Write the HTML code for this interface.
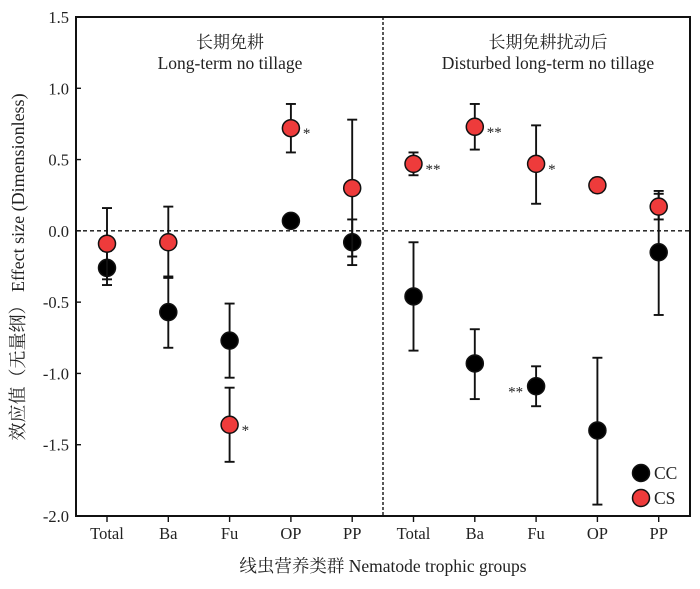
<!DOCTYPE html>
<html><head><meta charset="utf-8"><style>
body{margin:0;background:#fff}
svg text{font-family:"Liberation Serif","Noto Serif CJK SC",serif;fill:#222}
</style></head><body>
<svg width="700" height="584" xmlns="http://www.w3.org/2000/svg">
<g id="g"></g>
</svg>
<script>
const categories=["Total","Ba","Fu","OP","PP","Total","Ba","Fu","OP","PP"];
const ccMean=[-0.26,-0.57,-0.77,0.07,-0.08,-0.46,-0.93,-1.09,-1.40,-0.15];
const ccLow=[-0.38,-0.82,-1.03,0.07,-0.24,-0.84,-1.18,-1.23,-1.92,-0.59];
const ccHigh=[-0.14,-0.32,-0.51,0.07,0.08,-0.08,-0.69,-0.95,-0.89,0.28];
const csMean=[-0.09,-0.08,-1.36,0.72,0.30,0.47,0.73,0.47,0.32,0.17];
const csLow=[-0.34,-0.33,-1.62,0.55,-0.18,0.39,0.57,0.19,0.27,0.08];
const csHigh=[0.16,0.17,-1.10,0.89,0.78,0.55,0.89,0.74,0.37,0.26];
const csSig=["","","*","*","","**","**","*","",""];
const ccSig=["","","","","","","","**","",""];
const yTicks=[1.5,1.0,0.5,0.0,-0.5,-1.0,-1.5,-2.0];
const yTickLabels=["1.5","1.0","0.5","0.0","-0.5","-1.0","-1.5","-2.0"];

const L=76,R=690,T=17,B=516;
const y=v=>T+(1.5-v)/3.5*(B-T);
const x=i=>107+i*61.3;
const NS="http://www.w3.org/2000/svg";
const g=document.getElementById('g');
function mk(tag,attrs,parent){const e=document.createElementNS(NS,tag);for(const k in attrs)e.setAttribute(k,attrs[k]);(parent||g).appendChild(e);return e;}

let f=mk('rect',{x:L,y:T,width:R-L,height:B-T,fill:'none',stroke:'#111','stroke-width':2});


let z=mk('line',{x1:L,x2:R,y1:y(0),y2:y(0),stroke:'#111','stroke-width':1.4,'stroke-dasharray':'4,3'});


let dv=mk('line',{x1:383,x2:383,y1:T,y2:B,stroke:'#111','stroke-width':1.4,'stroke-dasharray':'3,2'});



yTicks.forEach((v,i)=>{
  mk('line',{x1:L,x2:L+5,y1:y(v),y2:y(v),stroke:'#111','stroke-width':1.4});
  const t=mk('text',{x:L-7,y:y(v)+6,'text-anchor':'end','font-size':16.5});
  t.textContent=yTickLabels[i];
  
  
});
categories.forEach((c,i)=>{
  mk('line',{x1:x(i),x2:x(i),y1:B,y2:B+6,stroke:'#111','stroke-width':1.4});
  const t=mk('text',{x:x(i),y:B+23,'text-anchor':'middle','font-size':16.5});
  t.textContent=c;
  
  
});

function series(mean,lo,hi,fill,sig,name,sigLeft){
  mean.forEach((m,i)=>{
    const cx=x(i);
    const eb=mk('g',{stroke:'#111','stroke-width':1.9});
    
    
    mk('line',{x1:cx,x2:cx,y1:y(lo[i]),y2:y(hi[i])},eb);
    mk('line',{x1:cx-5,x2:cx+5,y1:y(lo[i]),y2:y(lo[i])},eb);
    mk('line',{x1:cx-5,x2:cx+5,y1:y(hi[i]),y2:y(hi[i])},eb);
    const p=mk('circle',{cx:cx,cy:y(m),r:8.5,fill:fill,stroke:'#111','stroke-width':1.5});
    
    
    if(sig[i]){
      const t=mk('text',{x:sigLeft?cx-13:cx+12,y:y(m)+10,'text-anchor':sigLeft?'end':'start','font-size':15});
      t.textContent=sig[i];
      
      
    }
  });
}
series(ccMean,ccLow,ccHigh,'#000',ccSig,'cc',true);
series(csMean,csLow,csHigh,'#ee3b3b',csSig,'cs',false);

function txt(s,a,name){const t=mk('text',a);t.textContent=s;return t;}
txt('长期免耕',{x:230,y:48,'text-anchor':'middle','font-size':17},'panel-title-cn-left');
txt('Long-term no tillage',{x:230,y:69,'text-anchor':'middle','font-size':17.5},'panel-title-left');
txt('长期免耕扰动后',{x:548,y:48,'text-anchor':'middle','font-size':17},'panel-title-cn-right');
txt('Disturbed long-term no tillage',{x:548,y:69,'text-anchor':'middle','font-size':17.5},'panel-title-right');
txt('线虫营养类群 Nematode trophic groups',{x:383,y:572,'text-anchor':'middle','font-size':17.5},'x-axis-title');
txt('效应值（无量纲） Effect size (Dimensionless)',{x:0,y:0,'text-anchor':'middle','font-size':18,transform:'translate(24,267) rotate(-90)'},'y-axis-title');

const lg=mk('g',{});


mk('circle',{cx:641,cy:473,r:8.5,fill:'#000',stroke:'#111','stroke-width':1.5},lg);
mk('circle',{cx:641,cy:498,r:8.5,fill:'#ee3b3b',stroke:'#111','stroke-width':1.5},lg);
let a=mk('text',{x:654,y:479,'font-size':17.5},lg);a.textContent='CC';
let b=mk('text',{x:654,y:504,'font-size':17.5},lg);b.textContent='CS';
</script>
</body></html>
